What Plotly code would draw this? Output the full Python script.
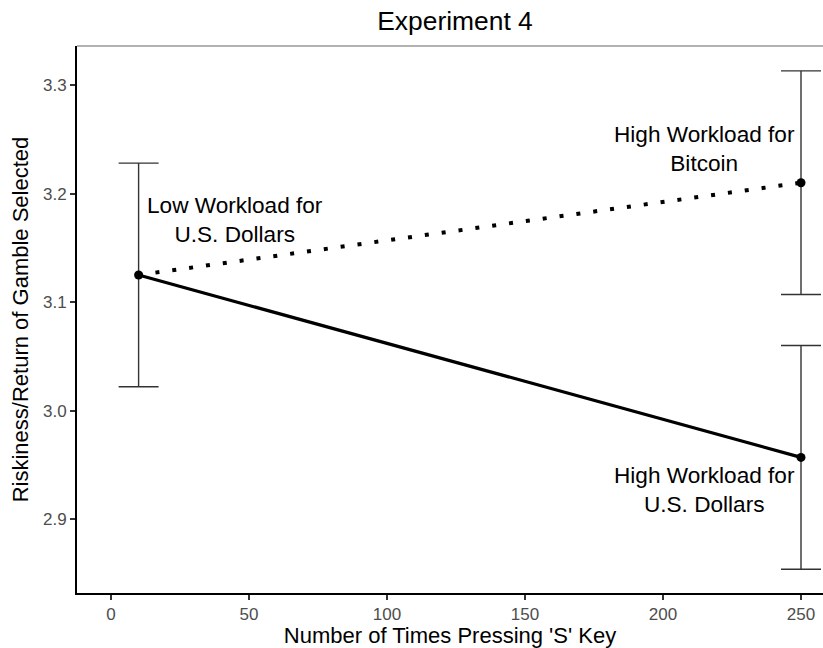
import plotly.graph_objects as go

# ---- data ----
conditions = ["Low Workload for<br>U.S. Dollars",
              "High Workload for<br>Bitcoin",
              "High Workload for<br>U.S. Dollars"]
presses = [10, 250, 250]
means = [3.125, 3.210, 2.957]
ci_half = [0.103, 0.103, 0.103]
x_ticks = [0, 50, 100, 150, 200, 250]
y_ticks = [2.9, 3.0, 3.1, 3.2, 3.3]
label_x = [45, 215, 215]
label_y = [3.1756, 3.241, 2.927]

FONT = "Liberation Sans, Arial, sans-serif"

fig = go.Figure()

# solid line: low workload USD -> high workload USD
fig.add_trace(go.Scatter(
    x=[presses[0], presses[2]], y=[means[0], means[2]],
    mode="lines", line=dict(color="black", width=3.2),
    showlegend=False, hoverinfo="skip"))

# dotted line: low workload USD -> high workload Bitcoin
fig.add_trace(go.Scatter(
    x=[presses[0], presses[1]], y=[means[0], means[1]],
    mode="lines", line=dict(color="black", width=4, dash="4px,13px"),
    showlegend=False, hoverinfo="skip"))

# points with error bars
fig.add_trace(go.Scatter(
    x=presses, y=means, mode="markers",
    marker=dict(color="black", size=9),
    error_y=dict(type="data", array=ci_half, visible=True,
                 color="#333333", thickness=1.4, width=20),
    showlegend=False))

for cx, cy, txt in zip(label_x, label_y, conditions):
    fig.add_annotation(x=cx, y=cy, text=txt, showarrow=False,
                       font=dict(family=FONT, size=22.6, color="black"),
                       xanchor="center", yanchor="middle", align="center")

# thin grey line at top of panel
fig.add_shape(type="line", xref="paper", yref="paper", x0=0, x1=1, y0=1, y1=1,
              line=dict(color="#666666", width=1.2))

fig.update_layout(
    width=823, height=648,
    margin=dict(l=77, r=0, t=46, b=55),
    paper_bgcolor="white", plot_bgcolor="white",
    font=dict(family=FONT, color="black"),
    title=dict(text="Experiment 4", x=(455 - 77) / 746, xref="paper",
               xanchor="center", y=1 - 21 / 648, yref="container", yanchor="middle",
               font=dict(family=FONT, size=26.4, color="black")),
    xaxis=dict(range=[-12.32, 257.97], tickvals=x_ticks,
               ticktext=[str(v) for v in x_ticks],
               showgrid=False, zeroline=False, showline=True,
               linecolor="black", linewidth=2,
               ticks="outside", ticklen=5, tickwidth=1.5, tickcolor="#333333",
               tickfont=dict(family=FONT, size=17, color="#4D4D4D"),
               title=dict(text="Number of Times Pressing 'S' Key",
                          font=dict(family=FONT, size=22, color="black"),
                          standoff=6)),
    yaxis=dict(range=[2.8321, 3.3359], tickvals=y_ticks,
               ticktext=[f"{v:.1f}" for v in y_ticks],
               showgrid=False, zeroline=False, showline=True,
               linecolor="black", linewidth=2,
               ticks="outside", ticklen=5, tickwidth=1.5, tickcolor="#333333",
               tickfont=dict(family=FONT, size=17, color="#4D4D4D"),
               title=dict(text="Riskiness/Return of Gamble Selected",
                          font=dict(family=FONT, size=22, color="black"),
                          standoff=8)),
)

fig.write_html("out.html")
